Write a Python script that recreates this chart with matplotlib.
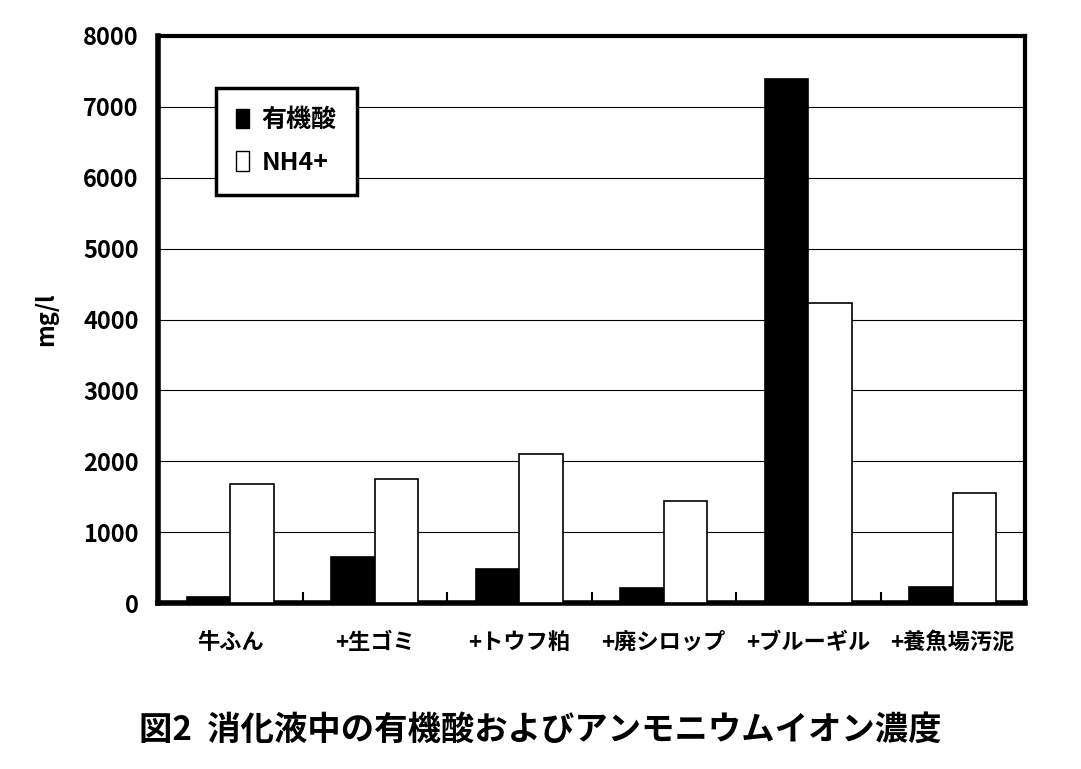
import matplotlib.pyplot as plt
from matplotlib.patches import Patch
import numpy as np

plt.rcParams['font.family'] = ['Noto Sans CJK JP', 'DejaVu Sans']

# data (mg/l)
categories = ['牛ふん', '+生ゴミ', '+トウフ粕', '+廃シロップ', '+ブルーギル', '+養魚場汚泥']
organic_acid = [80, 650, 480, 210, 7400, 220]
nh4 = [1680, 1750, 2100, 1440, 4230, 1550]
yticks = [0, 1000, 2000, 3000, 4000, 5000, 6000, 7000, 8000]

fig = plt.figure(figsize=(10.81, 7.69), dpi=100)
ax = fig.add_axes([0.1462, 0.2158, 0.8020, 0.7374])

x = np.arange(len(categories))
w = 0.3
ax.bar(x - w / 2, organic_acid, w, color='black', edgecolor='black', linewidth=1.2, zorder=3)
ax.bar(x + w / 2, nh4, w, color='white', edgecolor='black', linewidth=1.2, zorder=3)

ax.set_xlim(-0.5, len(categories) - 0.5)
ax.set_ylim(0, 8000)
ax.set_yticks(yticks)
ax.set_yticklabels([str(v) for v in yticks], fontsize=17, fontweight='bold')
ax.yaxis.grid(True, color='black', linewidth=0.8, zorder=0)
ax.tick_params(axis='y', length=0, pad=14)

ax.set_xticks(x)
ax.set_xticklabels(categories, fontsize=16, fontweight='bold')
ax.tick_params(axis='x', which='major', length=0, pad=20)
ax.set_xticks(np.arange(0.5, len(categories) - 0.5, 1), minor=True)
ax.tick_params(axis='x', which='minor', direction='in', length=8, width=1.5)

for side in ['left', 'bottom']:
    ax.spines[side].set_linewidth(4)
for side in ['top', 'right']:
    ax.spines[side].set_linewidth(3)

ax.set_ylabel('mg/l', fontsize=17, fontweight='bold', labelpad=18)

handles = [Patch(facecolor='black', edgecolor='black'),
           Patch(facecolor='white', edgecolor='black')]
leg = ax.legend(handles, ['有機酸', 'NH4+'], loc='upper left',
                bbox_to_anchor=(0.052, 0.93), fancybox=False, framealpha=1,
                edgecolor='black', prop={'size': 18, 'weight': 'bold'},
                handlelength=0.55, handleheight=0.85, handletextpad=0.5,
                labelspacing=0.75, borderpad=0.8)
leg.get_frame().set_linewidth(2.5)

fig.text(0.5, 0.05, '図2  消化液中の有機酸およびアンモニウムイオン濃度',
         ha='center', va='center', fontsize=24, fontweight='bold')

fig.savefig('out.png', dpi=100)
